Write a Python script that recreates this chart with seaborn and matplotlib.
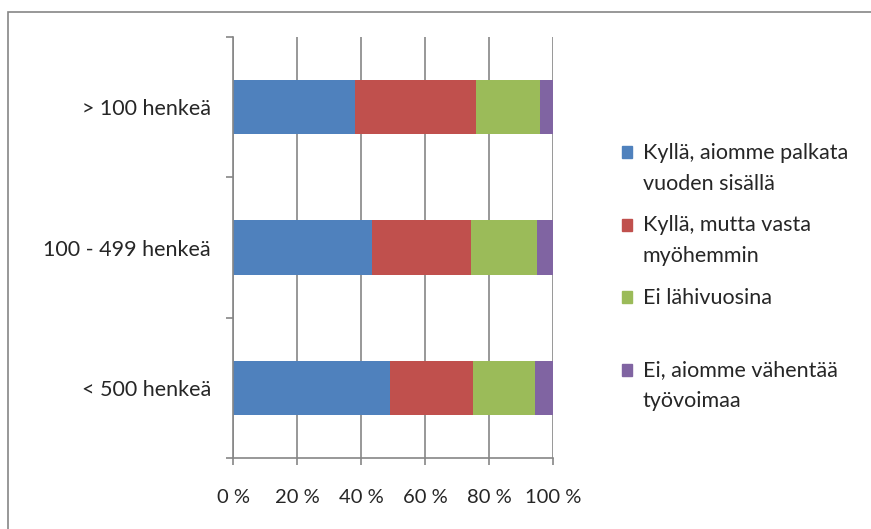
import numpy as np
import pandas as pd
import matplotlib.pyplot as plt
from matplotlib.patches import Rectangle, Patch
from matplotlib.legend_handler import HandlerPatch
import seaborn as sns

categories = ["> 100 henkeä", "100 - 499 henkeä", "< 500 henkeä"]
series_names = ["Kyllä, aiomme palkata\nvuoden sisällä",
                "Kyllä, mutta vasta\nmyöhemmin",
                "Ei lähivuosina\n",
                "Ei, aiomme vähentää\ntyövoimaa"]
palkata = [38, 43.5, 49]
myohemmin = [38, 31, 26]
ei_lahi = [20, 20.5, 19.5]
vahentaa = [4, 5, 5.5]
x_ticks = [0, 20, 40, 60, 80, 100]
colors = ["#4F81BD", "#C0504D", "#9BBB59", "#8064A2"]
grey = "#868686"

sns.set_style("white")
plt.rcParams['font.family'] = ['Lato', 'DejaVu Sans']

df = pd.DataFrame({"ryhma": categories, "s0": palkata, "s1": myohemmin,
                   "s2": ei_lahi, "s3": vahentaa})
# stacked bars: draw cumulative sums, widest first
cum = df[["s0", "s1", "s2", "s3"]].cumsum(axis=1)

fig = plt.figure(figsize=(8.71, 5.29), dpi=100)
ax = fig.add_axes([233/871, 1-458/529, 320/871, 421/529])
for i in reversed(range(4)):
    sns.barplot(x=cum["s%d" % i], y=df["ryhma"], orient="h", color=colors[i],
                saturation=1, width=0.385, ax=ax, linewidth=0)

ax.set_xlim(0, 100)
ax.set_ylim(2.5, -0.5)
ax.set_xticks(x_ticks)
ax.set_xticklabels(["%d %%" % v for v in x_ticks], fontsize=14.5)
ax.set_yticks(range(3))
ax.set_yticklabels(categories, fontsize=15.5)
ax.set_yticks([-0.5, 0.5, 1.5, 2.5], minor=True)
ax.set_xlabel("")
ax.set_ylabel("")
ax.xaxis.grid(True, color=grey, lw=1.2)
ax.set_axisbelow(True)
for s in ["top", "right"]:
    ax.spines[s].set_visible(False)
for s in ["left", "bottom"]:
    ax.spines[s].set_color(grey)
    ax.spines[s].set_linewidth(1.2)
ax.tick_params(axis="x", which="major", length=5, width=1.2, color=grey,
               direction="out", pad=17, bottom=True)
ax.tick_params(axis="y", which="major", length=0, pad=16)
ax.tick_params(axis="y", which="minor", length=5, width=1.2, color=grey,
               direction="out", left=True)

# legend: square aligned with first text line
def top_square(legend, orig_handle, xdescent, ydescent, width, height, fontsize):
    return Rectangle((-xdescent, -ydescent + 0.76 * fontsize), width, height)

handles = [Patch(color=c) for c in colors]
leg = fig.legend(handles, series_names, loc="upper left",
                 bbox_to_anchor=(622/871, 1-143/529), frameon=False,
                 fontsize=15.5, handlelength=0.47, handleheight=0.47,
                 handletextpad=0.5, labelspacing=1.0, borderpad=0,
                 borderaxespad=0,
                 handler_map={Patch: HandlerPatch(patch_func=top_square)})
for t in leg.get_texts():
    t.set_linespacing(1.68)

fig.add_artist(Rectangle((8/871, -0.05), 1, 1 - 12/529 + 0.05,
                         transform=fig.transFigure, fill=False,
                         edgecolor=grey, lw=1.2))

fig.savefig("out.png", dpi=100)
